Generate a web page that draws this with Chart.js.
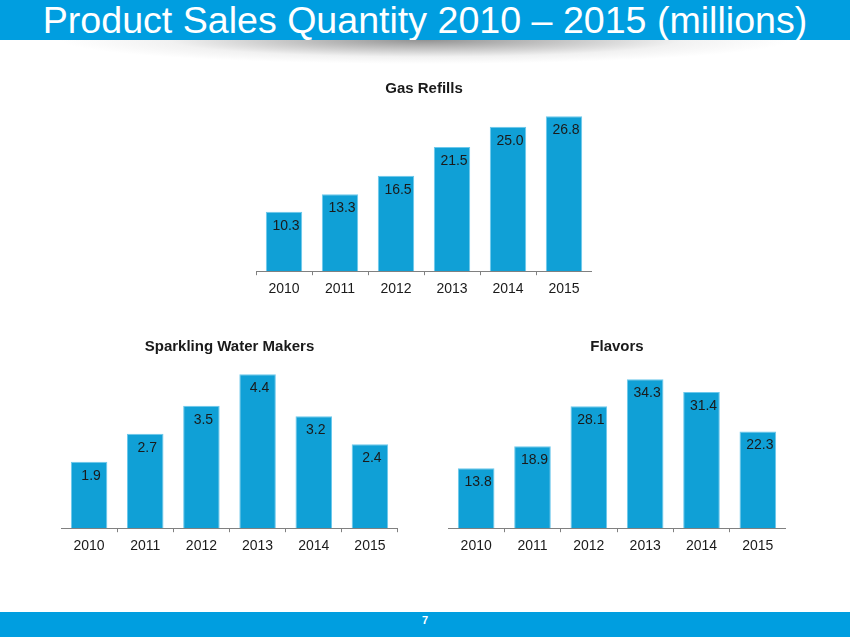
<!DOCTYPE html>
<html>
<head>
<meta charset="utf-8">
<script src="https://cdn.jsdelivr.net/npm/chart.js@4"></script>
<style>
  html, body { margin: 0; padding: 0; background: #fff; }
  body { width: 850px; height: 637px; position: relative; overflow: hidden; font-family: "Liberation Sans", Arial, sans-serif; }
  #header { position: absolute; left: 0; top: 0; width: 850px; height: 40px; background: #009ee0; }
  #header h1 { margin: 0; font-weight: normal; color: #fff; font-size: 37.6px; line-height: 40px; text-align: center; white-space: nowrap; }
  #shadow { position: absolute; left: 60px; top: 40px; width: 730px; height: 24px;
    background: radial-gradient(ellipse 50% 100% at 50% 0%, rgba(110,110,110,0.75), rgba(200,200,200,0.25) 70%, rgba(255,255,255,0) 100%); }
  #footer { position: absolute; left: 0; top: 612px; width: 850px; height: 25px; background: #009ee0; }
  #footer span { position: absolute; left: 0; width: 850px; top: 2px; text-align: center; color: #fff; font-size: 11px; font-weight: bold; }
  .box { position: absolute; }
</style>
</head>
<body>
<div id="header"><h1>Product Sales Quantity 2010 – 2015 (millions)</h1></div>
<div id="shadow"></div>

<div class="box" style="left:256px; top:80px; width:336px; height:224px;"><canvas id="gasChart" width="336" height="224"></canvas></div>
<div class="box" style="left:61px; top:338px; width:337px; height:223px;"><canvas id="waterChart" width="337" height="223"></canvas></div>
<div class="box" style="left:448px; top:338px; width:338px; height:223px;"><canvas id="flavorChart" width="338" height="223"></canvas></div>

<div id="footer"><span>7</span></div>

<script>
// data
const years = ['2010', '2011', '2012', '2013', '2014', '2015'];
const gasRefills = [10.3, 13.3, 16.5, 21.5, 25.0, 26.8];
const waterMakers = [1.9, 2.7, 3.5, 4.4, 3.2, 2.4];
const flavors = [13.8, 18.9, 28.1, 34.3, 31.4, 22.3];

const barColor = '#10a0d6';
const axisColor = '#808080';

// value labels drawn just inside the top of each bar
const insideLabels = {
  id: 'insideLabels',
  afterDatasetsDraw(chart) {
    const ctx = chart.ctx;
    const meta = chart.getDatasetMeta(0);
    const values = chart.data.datasets[0].data;
    ctx.save();
    ctx.font = '14px "Liberation Sans", Arial, sans-serif';
    ctx.fillStyle = '#1a1a1a';
    ctx.textAlign = 'center';
    ctx.textBaseline = 'middle';
    meta.data.forEach((bar, i) => {
      ctx.fillText(values[i].toFixed(1), bar.x + 2, bar.y + 14);
    });
    ctx.restore();
  }
};

const makeChart = (canvasId, title, values, yMax) => {
  const ctx = document.getElementById(canvasId);
  return new Chart(ctx, {
    type: 'bar',
    data: {
      labels: years,
      datasets: [{
        data: values,
        backgroundColor: barColor,
        borderColor: '#6cc8ec',
        borderWidth: 1,
        borderSkipped: 'bottom',
        barPercentage: 0.65,
        categoryPercentage: 1,
      }],
    },
    options: {
      responsive: false,
      animation: false,
      devicePixelRatio: 1,
      layout: { padding: 0 },
      plugins: {
        legend: { display: false },
        tooltip: { enabled: false },
        title: {
          display: true,
          text: title,
          color: '#1a1a1a',
          font: { family: '"Liberation Sans", Arial, sans-serif', size: 15, weight: 'bold', lineHeight: 1.2 },
          padding: { top: 0, bottom: 12 },
        },
      },
      scales: {
        x: {
          grid: { display: true, drawOnChartArea: false, drawTicks: true, tickLength: 4, color: axisColor, offset: true },
          border: { display: true, color: axisColor, width: 1 },
          ticks: { color: '#1a1a1a', padding: 6, font: { family: '"Liberation Sans", Arial, sans-serif', size: 14 } },
        },
        y: { display: false, min: 0, max: yMax },
      },
    },
    plugins: [insideLabels],
  });
};

makeChart('gasChart', 'Gas Refills', gasRefills, 27.9);
makeChart('waterChart', 'Sparkling Water Makers', waterMakers, 4.58);
makeChart('flavorChart', 'Flavors', flavors, 36.9);
</script>
</body>
</html>
